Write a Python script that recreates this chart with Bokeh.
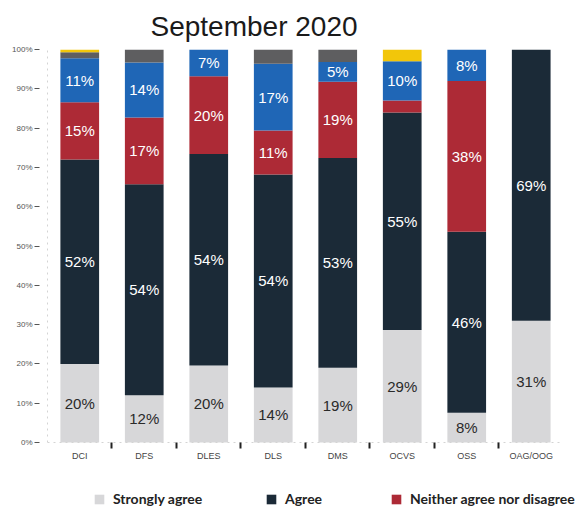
import numpy as np
from bokeh.plotting import figure
from bokeh.models import (ColumnDataSource, Range1d, FixedTicker, Legend, LegendItem,
                          PrintfTickFormatter)
from bokeh.core.properties import value
from bokeh.embed import file_html
from bokeh.resources import INLINE

# ---- data (percent of respondents) ----
categories = ["DCI", "DFS", "DLES", "DLS", "DMS", "OCVS", "OSS", "OAG/OOG"]
strongly_agree = [20, 12, 19.6, 14, 19, 28.6, 7.6, 31]
agree = [52, 53.7, 53.8, 54.2, 53.4, 55.4, 46, 69]
neither = [14.6, 17, 19.8, 11.2, 19.4, 3, 38.4, 0]
disagree = [11.2, 14, 6.8, 17, 5, 10, 8, 0]
strongly_disagree = [1.5, 3.3, 0, 3.6, 3.2, 0, 0, 0]
dont_know = [0.7, 0, 0, 0, 0, 3, 0, 0]

series_names = ["Strongly agree", "Agree", "Neither agree nor disagree",
                "Disagree", "Strongly disagree", "Don't know"]
series_values = [strongly_agree, agree, neither, disagree, strongly_disagree, dont_know]
colors = ["#d7d7d9", "#1b2a37", "#ad2a36", "#1f66b6", "#5e5e60", "#f2c60a"]
label_colors = ["#2a2a2a", "#ffffff", "#ffffff", "#ffffff", "#ffffff", "#ffffff"]
y_ticks = list(range(0, 101, 10))

FONT = "Liberation Sans"
n = len(categories)

x = np.arange(n) + 0.5
data = {"x": x}
keys = []
for i, vals in enumerate(series_values):
    k = f"s{i}"
    keys.append(k)
    data[k] = vals
src = ColumnDataSource(data)

# frame runs to the bottom/right edges so the legend can sit inside it; y=0 at the axis
p = figure(width=582, height=510,
           x_range=Range1d(0, n + 0.295), y_range=Range1d(-17.3, 100),
           output_backend="svg", toolbar_location=None,
           min_border_left=47, min_border_right=0,
           min_border_top=47, min_border_bottom=0)

renderers = p.vbar_stack(keys, x="x", width=0.6, color=colors, line_color=None,
                         source=src)

# segment labels
lx, ly, lt, lc = [], [], [], []
for j in range(n):
    bottom = 0.0
    for i, vals in enumerate(series_values):
        v = vals[j]
        if v >= 4.5:
            lx.append(x[j])
            ly.append(bottom + v / 2)
            lt.append(f"{v:.0f}%")
            lc.append(label_colors[i])
        bottom += v
lsrc = ColumnDataSource(dict(x=lx, y=ly, t=lt, c=lc))
p.text(x="x", y="y", text="t", text_color="c", source=lsrc,
       text_align="center", text_baseline="middle",
       text_font=value(FONT), text_font_size="15px")

# title
p.title.text = "September 2020"
p.title.text_font = FONT
p.title.text_font_size = "28px"
p.title.text_font_style = "normal"
p.title.text_color = "#1a1a1a"
p.title.align = "left"
p.title.offset = 103
p.title.standoff = 16

# axes
p.xgrid.visible = False
p.ygrid.visible = False
p.outline_line_color = None

xa = p.xaxis[0]
xa.fixed_location = 0
xa.bounds = (0, n)
xa.ticker = FixedTicker(ticks=list(x), minor_ticks=list(range(1, n)))
xa.major_label_overrides = {float(xx): c for xx, c in zip(x, categories)}
xa.major_tick_in = 0
xa.major_tick_out = 0
xa.minor_tick_in = 0
xa.minor_tick_out = 6
xa.minor_tick_line_color = "#222222"
xa.minor_tick_line_width = 2
xa.axis_line_color = "#d4d4d4"
xa.axis_line_dash = "dotted"
xa.major_label_text_font = FONT
xa.major_label_text_font_size = "9px"
xa.major_label_text_color = "#444444"
xa.major_label_standoff = 2

ya = p.yaxis[0]
ya.bounds = (0, 100)
ya.ticker = FixedTicker(ticks=y_ticks)
ya.formatter = PrintfTickFormatter(format="%d%%")
ya.minor_tick_line_color = None
ya.major_tick_in = -8
ya.major_tick_out = 13
ya.major_tick_line_color = "#555555"
ya.axis_line_color = "#d4d4d4"
ya.axis_line_dash = "dotted"
ya.major_label_text_font = FONT
ya.major_label_text_font_size = "8px"
ya.major_label_text_color = "#555555"
ya.major_label_standoff = 2

# legends (first three series, as in the reference), placed under the axis
legend_x = [46, 218, 343]
for i in range(3):
    lg = Legend(items=[LegendItem(label=series_names[i], renderers=[renderers[i]])],
                location=(legend_x[i], 3), orientation="horizontal",
                padding=0, margin=0, border_line_color=None, background_fill_alpha=0,
                glyph_width=12, glyph_height=12, label_standoff=8, label_height=16,
                label_text_font="Lato", label_text_font_size="14px",
                label_text_font_style="bold", label_text_color="#222222")
    p.add_layout(lg, "center")

open("out.html", "w").write(file_html(p, INLINE))
